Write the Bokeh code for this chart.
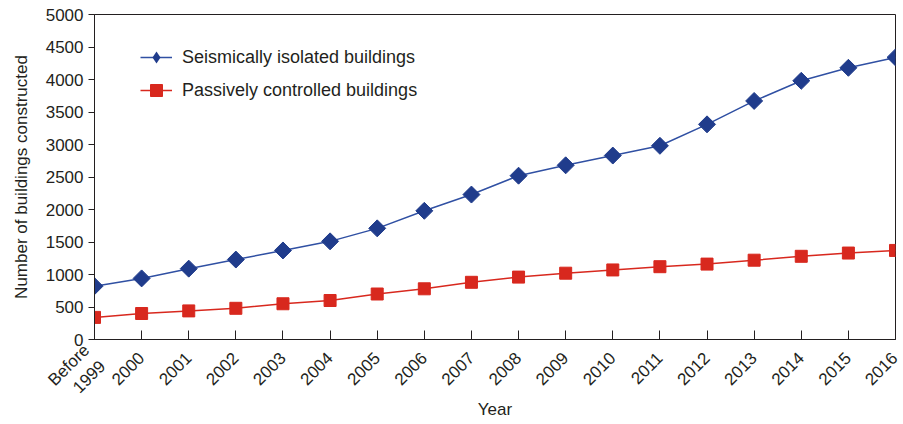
import math
from bokeh.plotting import figure
from bokeh.models import Range1d, FixedTicker, Legend, LegendItem
from bokeh.embed import file_html
from bokeh.resources import INLINE

# ---- data ----
year_labels = ["Before\n1999", "2000", "2001", "2002", "2003", "2004", "2005", "2006",
               "2007", "2008", "2009", "2010", "2011", "2012", "2013", "2014", "2015", "2016"]
isolated = [820, 940, 1090, 1230, 1370, 1510, 1710, 1980, 2230, 2520, 2680, 2830,
            2980, 3310, 3670, 3980, 4180, 4340]
passive = [340, 400, 440, 480, 550, 600, 700, 780, 880, 960, 1020, 1070,
           1120, 1160, 1220, 1280, 1330, 1370]
y_ticks = [0, 500, 1000, 1500, 2000, 2500, 3000, 3500, 4000, 4500, 5000]
series_names = ["Seismically isolated buildings", "Passively controlled buildings"]

x = list(range(len(year_labels)))

FONT = "Liberation Sans"
TXT = "#231F20"
BLUE_M = "#203C8C"
BLUE_L = "#3050A3"
RED = "#D8281E"

p = figure(width=901, height=422, output_backend="svg", toolbar_location=None,
           x_range=Range1d(0, len(year_labels) - 1), y_range=Range1d(0, 5000),
           min_border_left=94, min_border_top=14, min_border_right=6, min_border_bottom=83)

p.xgrid.visible = False
p.ygrid.visible = False
p.outline_line_color = "#231F20"
p.outline_line_width = 1
p.background_fill_color = "white"
p.border_fill_color = "white"

# series
l1 = p.line(x, isolated, line_color=BLUE_L, line_width=1.5)
m1 = p.scatter(x, isolated, marker="square", angle=math.pi / 4, size=12,
               fill_color=BLUE_M, line_color=BLUE_M)
l2 = p.line(x, passive, line_color=RED, line_width=1.5)
m2 = p.scatter(x, passive, marker="square", size=12, fill_color=RED, line_color=RED)
# legend-only diamond (zero-size in the plot itself)
m1_leg = p.scatter(x[:1], isolated[:1], marker="diamond", size=0,
                   fill_color=BLUE_M, line_color=None)

# axes
xa = p.xaxis[0]
xa.ticker = FixedTicker(ticks=x)
xa.major_label_overrides = {i: lab for i, lab in zip(x, year_labels)}
xa.major_label_orientation = math.pi / 4
xa.major_label_standoff = 16
xa.major_tick_in = 9
xa.major_tick_out = 0
xa.minor_tick_line_color = None
xa.axis_label = "Year"
xa.axis_label_text_font_style = "normal"
xa.axis_label_standoff = -23

ya = p.yaxis[0]
ya.ticker = FixedTicker(ticks=y_ticks)
ya.major_tick_in = 0
ya.major_tick_out = 6
ya.minor_tick_line_color = None
ya.axis_label = "Number of buildings constructed"
ya.axis_label_text_font_style = "normal"
ya.axis_label_standoff = 12

for ax in (xa, ya):
    ax.axis_line_color = "#231F20"
    ax.major_tick_line_color = "#231F20"
    ax.major_label_text_font = FONT
    ax.major_label_text_font_size = "17px"
    ax.major_label_text_color = TXT
    ax.axis_label_text_font = FONT
    ax.axis_label_text_font_size = "17px"
    ax.axis_label_text_color = TXT

legend = Legend(items=[LegendItem(label=series_names[0], renderers=[l1, m1_leg]),
                       LegendItem(label=series_names[1], renderers=[l2, m2])],
                location=(46, 234))
legend.margin = 0
legend.padding = 0
legend.border_line_alpha = 0
legend.background_fill_alpha = 0
legend.glyph_width = 32
legend.glyph_height = 30
legend.label_height = 20
legend.label_standoff = 10
legend.spacing = 3
legend.label_text_font = FONT
legend.label_text_font_size = "18px"
legend.label_text_color = TXT
p.add_layout(legend)

open("out.html", "w").write(file_html(p, INLINE))
